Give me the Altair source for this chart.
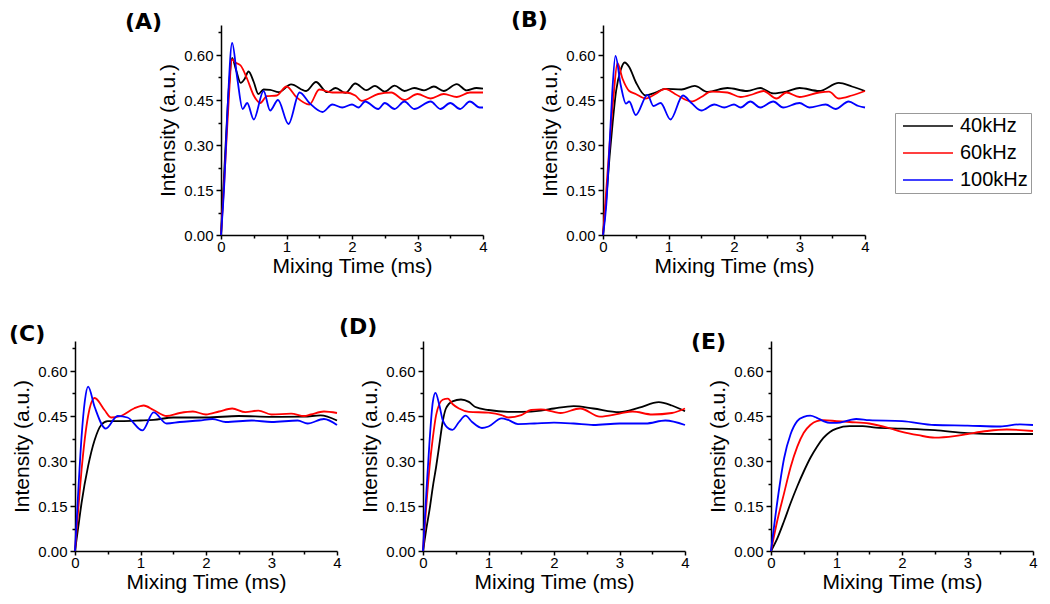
import altair as alt
import pandas as pd

SERIES = ["40kHz", "60kHz", "100kHz"]
COLORS = ["#000000", "#ff0000", "#0000ff"]

# ---------- Panel A ----------
tA_k = [0, 0.04, 0.08, 0.12, 0.17, 0.23, 0.3, 0.36, 0.42, 0.5, 0.57, 0.65, 0.75, 0.88, 1.07, 1.3, 1.45, 1.62, 1.75, 1.9, 2.05, 2.22, 2.35, 2.5, 2.65, 2.8, 2.95, 3.1, 3.25, 3.4, 3.6, 3.75, 3.9, 4.0]
vA_k = [0, 0.17, 0.34, 0.49, 0.59, 0.55, 0.507, 0.52, 0.545, 0.51, 0.47, 0.485, 0.484, 0.476, 0.502, 0.48, 0.51, 0.476, 0.49, 0.474, 0.505, 0.483, 0.497, 0.478, 0.498, 0.48, 0.49, 0.482, 0.495, 0.48, 0.503, 0.482, 0.49, 0.488]
tA_r = [0, 0.05, 0.1, 0.17, 0.22, 0.3, 0.4, 0.5, 0.6, 0.7, 0.85, 1.0, 1.15, 1.35, 1.5, 1.7, 1.9, 2.05, 2.15, 2.4, 2.6, 2.8, 3.0, 3.2, 3.4, 3.6, 3.8, 4.0]
vA_r = [0, 0.18, 0.38, 0.585, 0.575, 0.565, 0.52, 0.465, 0.44, 0.463, 0.465, 0.495, 0.46, 0.435, 0.485, 0.475, 0.475, 0.465, 0.447, 0.47, 0.475, 0.45, 0.47, 0.455, 0.47, 0.46, 0.475, 0.475]
tA_b = [0, 0.05, 0.1, 0.17, 0.25, 0.33, 0.4, 0.5, 0.65, 0.75, 0.87, 1.03, 1.2, 1.35, 1.55, 1.7, 1.85, 2.0, 2.1, 2.2, 2.4, 2.5, 2.65, 2.8, 2.95, 3.2, 3.35, 3.5, 3.65, 3.8, 3.95, 4.0]
vA_b = [0, 0.17, 0.42, 0.64, 0.52, 0.42, 0.44, 0.385, 0.48, 0.415, 0.45, 0.37, 0.475, 0.44, 0.41, 0.435, 0.425, 0.435, 0.425, 0.445, 0.42, 0.44, 0.42, 0.445, 0.42, 0.445, 0.42, 0.44, 0.42, 0.445, 0.425, 0.425]

# ---------- Panel B ----------
tB_k = [0, 0.05, 0.1, 0.15, 0.2, 0.27, 0.33, 0.4, 0.5, 0.65, 0.8, 0.95, 1.2, 1.4, 1.6, 1.9, 2.2, 2.4, 2.6, 2.8, 3.0, 3.3, 3.6, 3.8, 4.0]
vB_k = [0, 0.12, 0.26, 0.38, 0.48, 0.55, 0.575, 0.56, 0.51, 0.465, 0.475, 0.487, 0.485, 0.497, 0.477, 0.49, 0.48, 0.49, 0.472, 0.478, 0.49, 0.48, 0.507, 0.495, 0.48]
tB_r = [0, 0.05, 0.1, 0.16, 0.22, 0.3, 0.4, 0.5, 0.65, 0.8, 0.95, 1.1, 1.35, 1.5, 1.65, 1.9, 2.1, 2.3, 2.45, 2.65, 2.8, 3.0, 3.3, 3.45, 3.6, 3.8, 4.0]
vB_r = [0, 0.15, 0.3, 0.46, 0.573, 0.52, 0.48, 0.47, 0.455, 0.47, 0.487, 0.47, 0.445, 0.46, 0.478, 0.475, 0.46, 0.47, 0.48, 0.455, 0.475, 0.46, 0.475, 0.478, 0.455, 0.465, 0.48]
tB_b = [0, 0.05, 0.1, 0.14, 0.19, 0.27, 0.35, 0.4, 0.5, 0.68, 0.77, 0.88, 1.03, 1.22, 1.35, 1.5, 1.7, 1.85, 2.0, 2.1, 2.25, 2.4, 2.6, 2.75, 3.0, 3.15, 3.4, 3.55, 3.75, 3.9, 4.0]
vB_b = [0, 0.1, 0.3, 0.47, 0.597, 0.5, 0.438, 0.445, 0.4, 0.467, 0.43, 0.44, 0.385, 0.465, 0.44, 0.415, 0.435, 0.425, 0.435, 0.425, 0.445, 0.425, 0.445, 0.425, 0.44, 0.425, 0.435, 0.42, 0.445, 0.43, 0.425]

# ---------- Panel C ----------
tC_k = [0, 0.05, 0.1, 0.2, 0.3, 0.4, 0.5, 0.7, 1.0, 1.2, 1.5, 2.0, 2.5, 3.0, 3.5, 3.75, 4.0]
vC_k = [0, 0.08, 0.16, 0.283, 0.37, 0.42, 0.433, 0.433, 0.435, 0.437, 0.445, 0.445, 0.45, 0.447, 0.448, 0.452, 0.435]
tC_r = [0, 0.05, 0.1, 0.2, 0.3, 0.45, 0.55, 0.7, 0.9, 1.05, 1.2, 1.4, 1.6, 1.8, 2.0, 2.2, 2.4, 2.6, 2.8, 3.0, 3.3, 3.5, 3.6, 3.8, 4.0]
vC_r = [0, 0.14, 0.27, 0.45, 0.51, 0.47, 0.445, 0.45, 0.475, 0.485, 0.47, 0.45, 0.46, 0.465, 0.455, 0.465, 0.475, 0.463, 0.468, 0.455, 0.458, 0.45, 0.455, 0.465, 0.46]
tC_b = [0, 0.05, 0.1, 0.15, 0.2, 0.3, 0.47, 0.65, 0.8, 1.03, 1.2, 1.4, 1.6, 1.9, 2.1, 2.3, 2.7, 3.0, 3.4, 3.55, 3.8, 4.0]
vC_b = [0, 0.2, 0.38, 0.5, 0.548, 0.48, 0.408, 0.45, 0.445, 0.402, 0.462, 0.425, 0.43, 0.435, 0.44, 0.43, 0.435, 0.43, 0.435, 0.425, 0.44, 0.42]

# ---------- Panel D ----------
tD_k = [0, 0.05, 0.1, 0.15, 0.2, 0.25, 0.3, 0.35, 0.45, 0.58, 0.7, 0.8, 1.0, 1.3, 1.5, 1.8, 2.0, 2.3, 2.6, 3.0, 3.3, 3.6, 3.8, 4.0]
vD_k = [0, 0.073, 0.138, 0.214, 0.28, 0.355, 0.43, 0.475, 0.499, 0.505, 0.497, 0.48, 0.47, 0.464, 0.464, 0.468, 0.475, 0.483, 0.475, 0.463, 0.478, 0.496, 0.485, 0.466]
tD_r = [0, 0.05, 0.1, 0.15, 0.2, 0.25, 0.3, 0.38, 0.45, 0.55, 0.7, 1.0, 1.2, 1.3, 1.5, 1.65, 1.8, 2.0, 2.1, 2.4, 2.7, 3.0, 3.2, 3.5, 3.8, 4.0]
vD_r = [0, 0.149, 0.28, 0.377, 0.453, 0.49, 0.504, 0.508, 0.49, 0.475, 0.464, 0.461, 0.453, 0.445, 0.453, 0.47, 0.472, 0.464, 0.46, 0.475, 0.448, 0.458, 0.465, 0.455, 0.46, 0.475]
tD_b = [0, 0.05, 0.1, 0.15, 0.19, 0.25, 0.3, 0.4, 0.45, 0.55, 0.65, 0.75, 0.9, 1.0, 1.2, 1.3, 1.45, 1.7, 2.0, 2.3, 2.6, 3.0, 3.4, 3.7, 4.0]
vD_b = [0, 0.19, 0.366, 0.497, 0.527, 0.486, 0.437, 0.407, 0.404, 0.43, 0.451, 0.43, 0.41, 0.415, 0.442, 0.437, 0.423, 0.425, 0.428, 0.425, 0.42, 0.425, 0.425, 0.435, 0.42]

# ---------- Panel E ----------
tE_k = [0, 0.1, 0.2, 0.3, 0.4, 0.5, 0.6, 0.7, 0.8, 0.9, 1.0, 1.2, 1.4, 1.6, 2.0, 2.5, 3.0, 3.5, 4.0]
vE_k = [0, 0.044, 0.1, 0.16, 0.215, 0.265, 0.31, 0.347, 0.377, 0.397, 0.408, 0.416, 0.416, 0.411, 0.408, 0.403, 0.393, 0.39, 0.39]
tE_r = [0, 0.1, 0.2, 0.3, 0.4, 0.5, 0.6, 0.7, 0.8, 1.0, 1.2, 1.5, 1.8, 2.0, 2.25, 2.5, 2.8, 3.0, 3.3, 3.6, 4.0]
vE_r = [0, 0.105, 0.193, 0.28, 0.347, 0.394, 0.42, 0.433, 0.436, 0.433, 0.43, 0.425, 0.41, 0.397, 0.386, 0.378, 0.383, 0.39, 0.4, 0.405, 0.4]
tE_b = [0, 0.1, 0.2, 0.3, 0.4, 0.5, 0.6, 0.7, 0.8, 0.9, 1.0, 1.2, 1.3, 1.5, 2.0, 2.5, 3.0, 3.5, 3.8, 4.0]
vE_b = [0, 0.17, 0.309, 0.39, 0.433, 0.447, 0.451, 0.444, 0.433, 0.427, 0.427, 0.436, 0.44, 0.436, 0.433, 0.42, 0.418, 0.415, 0.422, 0.42]

X_TICKS = [i * 0.5 for i in range(9)]
Y_TICKS = [round(i * 0.075, 3) for i in range(10)]

FONT = "Liberation Sans"
PW, PH = 262, 210


def table(tk, vk, tr, vr, tb, vb):
    rows = []
    for name, ts, vs in zip(SERIES, (tk, tr, tb), (vk, vr, vb)):
        for t, v in zip(ts, vs):
            rows.append({"t": t, "v": v, "s": name})
    return pd.DataFrame(rows)


x_axis = alt.Axis(
    values=X_TICKS,
    labelExpr="datum.value % 1 == 0 ? format(datum.value, 'd') : ''",
    tickSize={"condition": {"test": "datum.value % 1 == 0", "value": 4}, "value": 3},
    grid=False, labelFlush=False, labelOverlap=False,
    domainColor="black", domainWidth=1.5, tickColor="black", tickWidth=1.5,
    labelFont=FONT, labelFontSize=15, labelColor="black", labelPadding=0,
    titleFont=FONT, titleFontSize=21, titleFontWeight="normal", titleColor="black",
    titlePadding=1,
)
y_axis = alt.Axis(
    values=Y_TICKS,
    labelExpr="round(datum.value / 0.075) % 2 == 0 ? format(datum.value, '.2f') : ''",
    tickSize={"condition": {"test": "round(datum.value / 0.075) % 2 == 0", "value": 5}, "value": 3},
    grid=False, labelOverlap=False,
    domainColor="black", domainWidth=1.5, tickColor="black", tickWidth=1.5,
    labelFont=FONT, labelFontSize=15, labelColor="black", labelPadding=3,
    titleFont=FONT, titleFontSize=21, titleFontWeight="normal", titleColor="black",
    titlePadding=5,
)

legend = alt.Legend(
    title=None, orient="none", legendX=820, legendY=88,
    symbolType="M-1,0H9", symbolSize=100, symbolStrokeWidth=1.5,
    labelFont=FONT, labelFontSize=20, labelColor="black", labelOffset=42,
    strokeColor="#999999", padding=3, rowPadding=7,
)

cscale = alt.Scale(domain=SERIES, range=COLORS)


def panel(label, df, dx, dy):
    return alt.Chart(df).mark_line(strokeWidth=1.8, interpolate="monotone").encode(
        x=alt.X("t:Q", scale=alt.Scale(domain=[0, 4], nice=False), axis=x_axis, title="Mixing Time (ms)"),
        y=alt.Y("v:Q", scale=alt.Scale(domain=[0, 0.7], nice=False), axis=y_axis, title="Intensity (a.u.)"),
        color=alt.Color("s:N", scale=cscale, legend=legend, sort=SERIES),
    ).properties(
        width=PW, height=PH,
        title=alt.TitleParams(text=label, anchor="start", frame="group", dx=dx, dy=dy, offset=0,
                              baseline="bottom", font="DejaVu Sans", fontSize=22,
                              fontWeight="bold", color="black"),
    )


def spacer(w):
    return alt.Chart(pd.DataFrame({"a": [0]})).mark_point(opacity=0).encode(
        x=alt.value(0), y=alt.value(0)
    ).properties(width=w, height=PH)


pA = panel("(A)", table(tA_k, vA_k, tA_r, vA_r, tA_b, vA_b), -96, 31)
pB = panel("(B)", table(tB_k, vB_k, tB_r, vB_r, tB_b, vB_b), -92, 29)
pC = panel("(C)", table(tC_k, vC_k, tC_r, vC_r, tC_b, vC_b), -66, 27)
pD = panel("(D)", table(tD_k, vD_k, tD_r, vD_r, tD_b, vD_b), -84, 20)
pE = panel("(E)", table(tE_k, vE_k, tE_r, vE_r, tE_b, vE_b), -80, 35)

row1 = alt.hconcat(spacer(26), pA, pB, spacing=120, bounds="flush")
row2 = alt.hconcat(pC, pD, pE, spacing=86, bounds="flush")

chart = alt.vconcat(row1, row2, spacing=38).properties(
    padding={"left": 0, "top": 0, "right": 0, "bottom": 0},
    background="white",
).configure_view(stroke="transparent")

chart.save("out.html", embed_options={"renderer": "svg", "actions": False})
